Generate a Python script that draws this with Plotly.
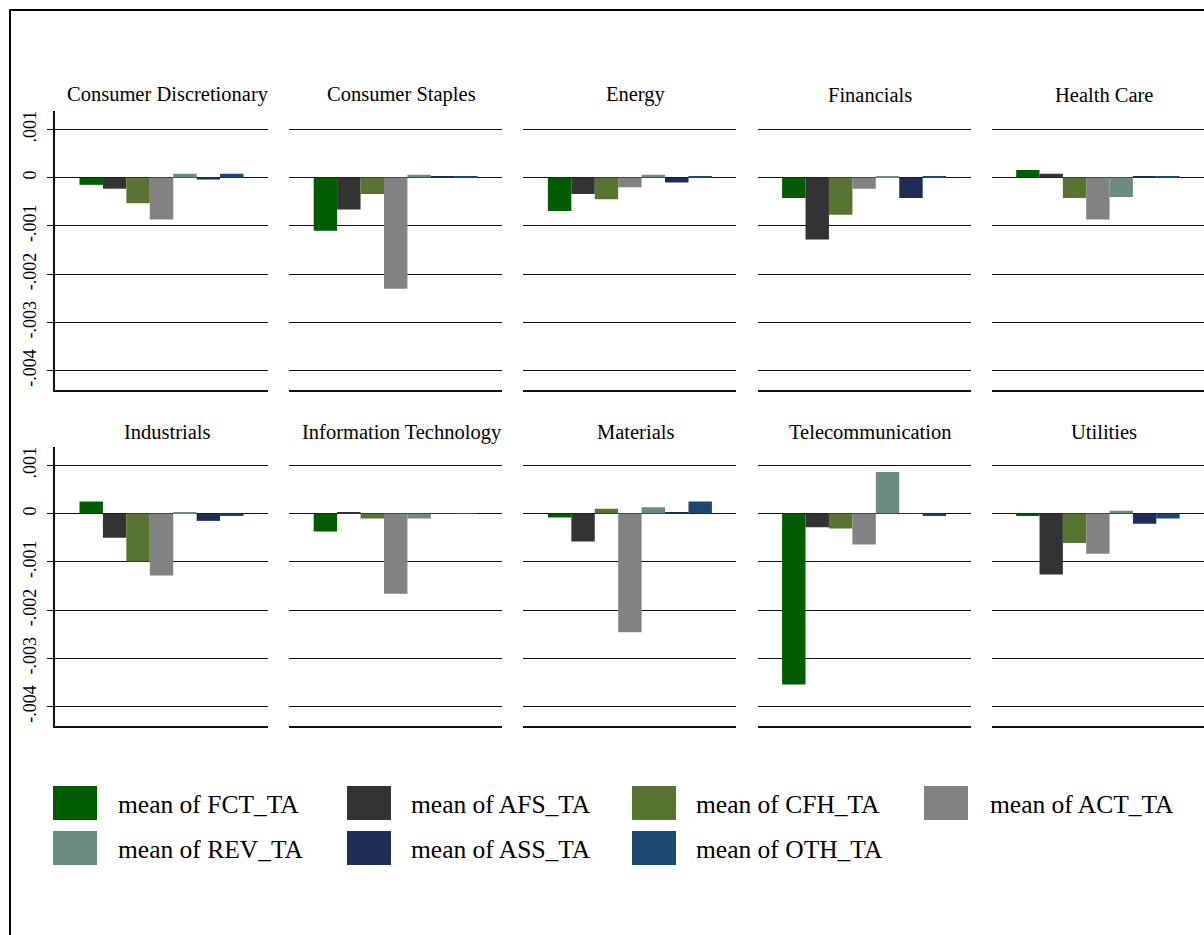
import plotly.graph_objects as go

# Sectors (one panel each) and the seven mean series
sectors = [
    "Consumer Discretionary", "Consumer Staples", "Energy", "Financials", "Health Care",
    "Industrials", "Information Technology", "Materials", "Telecommunication", "Utilities",
]
series_names = [
    "mean of FCT_TA", "mean of AFS_TA", "mean of CFH_TA", "mean of ACT_TA",
    "mean of REV_TA", "mean of ASS_TA", "mean of OTH_TA",
]
fct_ta = [-0.00015, -0.00110, -0.00069, -0.00042, 0.00016, 0.00025, -0.00037, -0.00008, -0.00354, -0.00005]
afs_ta = [-0.00023, -0.00066, -0.00034, -0.00128, 0.00008, -0.00050, 0.00003, -0.00058, -0.00028, -0.00126]
cfh_ta = [-0.00053, -0.00034, -0.00045, -0.00077, -0.00042, -0.00099, -0.00010, 0.00010, -0.00031, -0.00061]
act_ta = [-0.00087, -0.00230, -0.00020, -0.00023, -0.00087, -0.00128, -0.00166, -0.00246, -0.00064, -0.00083]
rev_ta = [0.00008, 0.00006, 0.00006, 0.00003, -0.00040, 0.00003, -0.00010, 0.00013, 0.00086, 0.00006]
ass_ta = [-0.00004, 0.00002, -0.00010, -0.00042, 0.00002, -0.00015, 0.00001, 0.00002, 0.00001, -0.00021]
oth_ta = [0.00008, 0.00002, 0.00003, 0.00003, 0.00002, -0.00005, 0.00001, 0.00025, -0.00005, -0.00010]
series_values = [fct_ta, afs_ta, cfh_ta, act_ta, rev_ta, ass_ta, oth_ta]

y_tick_vals = [0.001, 0, -0.001, -0.002, -0.003, -0.004]
y_tick_text = [".001", "0", "-.001", "-.002", "-.003", "-.004"]

colors = ["#005c00", "#333333", "#577430", "#828282", "#6c8c80", "#1f2c55", "#1b4770"]

W, H = 1204, 935
SERIF = "Liberation Serif, Times New Roman, serif"

# panel geometry in pixels
panel_left0, panel_w, panel_step = 55, 213, 234.2
row_tops = [111, 447]
row_bots = [390, 726]
title_y = [95, 432]
y_range = [-0.0044, 0.00138]


def px_x(v):
    return v / W


def px_y(v):
    return 1 - v / H


fig = go.Figure()
layout_axes = {}
annotations = []

for i, sector in enumerate(sectors):
    r, c = divmod(i, 5)
    k = i + 1
    xname = "x" if k == 1 else f"x{k}"
    yname = "y" if k == 1 else f"y{k}"
    for j, name in enumerate(series_names):
        fig.add_trace(go.Bar(
            x=[sector], y=[series_values[j][i]], name=name,
            marker=dict(color=colors[j], line=dict(width=0)),
            xaxis=xname, yaxis=yname, showlegend=False,
        ))
    x0 = panel_left0 + c * panel_step
    x1 = x0 + panel_w
    layout_axes["xaxis" if k == 1 else f"xaxis{k}"] = dict(
        domain=[px_x(x0), min(px_x(x1), 1.0)], anchor=yname, type="category",
        range=[-0.5, 0.5], showticklabels=False, ticks="", showgrid=False,
        showline=True, linecolor="#111111", linewidth=1.5, zeroline=False,
    )
    first = c == 0
    layout_axes["yaxis" if k == 1 else f"yaxis{k}"] = dict(
        domain=[px_y(row_bots[r]), px_y(row_tops[r])], anchor=xname,
        range=y_range, tickvals=y_tick_vals, ticktext=y_tick_text,
        showticklabels=first, ticks="outside" if first else "", ticklen=6,
        tickwidth=1.2, tickcolor="#111111", tickangle=-90, ticklabelstandoff=4,
        tickfont=dict(family=SERIF, size=18, color="black"),
        showgrid=True, gridcolor="#111111", gridwidth=1.4, zeroline=False,
        showline=first, linecolor="#111111", linewidth=1.5,
    )
    annotations.append(dict(
        text=sector, x=px_x((x0 + x1) / 2 + 6), y=px_y(title_y[r]),
        xref="paper", yref="paper", xanchor="center", yanchor="middle",
        showarrow=False, font=dict(family=SERIF, size=20.5, color="black"),
    ))

# legend: two rows of four columns with large swatches
legend_swatch_x = [53, 347, 632, 924]
legend_text_x = [116, 409, 694, 988]
legend_row_y = [803, 848]
sw_w, sw_h = 44, 34
shapes = []
for j, name in enumerate(series_names):
    rr, cc = divmod(j, 4)
    sx = legend_swatch_x[cc]
    cy = legend_row_y[rr]
    shapes.append(dict(
        type="rect", xref="paper", yref="paper",
        x0=px_x(sx), x1=px_x(sx + sw_w), y0=px_y(cy + sw_h / 2), y1=px_y(cy - sw_h / 2),
        fillcolor=colors[j], line=dict(width=0),
    ))
    annotations.append(dict(
        text=name, x=px_x(legend_text_x[cc]), y=px_y(cy + 1),
        xref="paper", yref="paper", xanchor="left", yanchor="middle",
        showarrow=False, font=dict(family=SERIF, size=25.5, color="black"),
    ))

# outer frame around the graph region
shapes.append(dict(
    type="rect", xref="paper", yref="paper",
    x0=px_x(10), x1=px_x(1215), y0=px_y(945), y1=px_y(10),
    line=dict(color="black", width=2), fillcolor="rgba(0,0,0,0)",
))

fig.update_layout(
    width=W, height=H, autosize=False,
    margin=dict(l=0, r=0, t=0, b=0),
    paper_bgcolor="white", plot_bgcolor="white",
    barmode="group", bargap=0.23, bargroupgap=0,
    showlegend=False,
    annotations=annotations, shapes=shapes,
    **layout_axes,
)

fig.write_html("out.html")
